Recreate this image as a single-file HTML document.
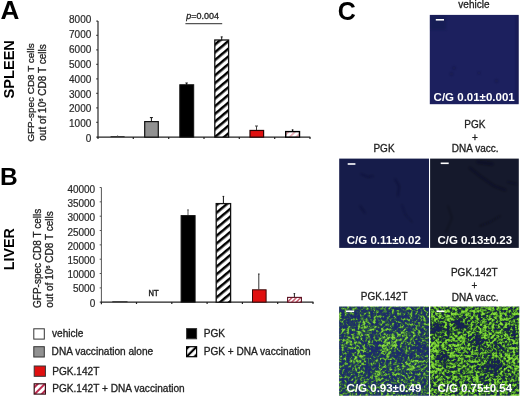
<!DOCTYPE html>
<html><head><meta charset="utf-8">
<style>
html,body{margin:0;padding:0;background:#fff;}
body{width:520px;height:398px;overflow:hidden;}
svg{display:block;}
text{font-family:"Liberation Sans",Arial,sans-serif;fill:#222;stroke:#222;stroke-width:0.3px;}
.b{font-weight:bold;fill:#000;stroke:none;}
.tk text{font-size:10px;text-anchor:end;fill:#2a2a2a;stroke:#2a2a2a;stroke-width:0.2px;}
.lg text{font-size:10.1px;fill:#222;}
.cg text{font-size:11.5px;font-weight:bold;fill:#fff;stroke:none;}
.ct text{font-size:10px;text-anchor:middle;fill:#222;}
</style></head><body>
<svg width="520" height="398" viewBox="0 0 520 398">
<defs>
<pattern id="hk" patternUnits="userSpaceOnUse" width="10" height="5.9" patternTransform="rotate(-40)">
<rect x="0" y="0" width="10" height="5.9" fill="#fff"/>
<rect x="0" y="0" width="10" height="2.5" fill="#000"/>
</pattern>
<pattern id="hrA" patternUnits="userSpaceOnUse" width="10" height="4.6" patternTransform="translate(292.5,134.3) rotate(-45)">
<rect x="0" y="0" width="10" height="4.6" fill="#fff"/>
<rect x="0" y="0" width="10" height="0.7" fill="#e49aa4"/><rect x="0" y="3.9" width="10" height="0.7" fill="#e49aa4"/>
</pattern>
<pattern id="hrB" patternUnits="userSpaceOnUse" width="10" height="3.1" patternTransform="translate(294.4,299.6) rotate(-45)">
<rect x="0" y="0" width="10" height="3.1" fill="#fff"/>
<rect x="0" y="0" width="10" height="0.5" fill="#b0102c"/><rect x="0" y="2.6" width="10" height="0.5" fill="#b0102c"/>
</pattern>
<pattern id="hrL" patternUnits="userSpaceOnUse" width="10" height="5.0" patternTransform="translate(39.8,389) rotate(-45)">
<rect x="0" y="0" width="10" height="5.0" fill="#fff"/>
<rect x="0" y="0" width="10" height="0.9" fill="#b8103a"/><rect x="0" y="4.1" width="10" height="0.9" fill="#b8103a"/>
</pattern>
<pattern id="hkL" patternUnits="userSpaceOnUse" width="10" height="5.6" patternTransform="translate(191.6,351.7) rotate(-45)">
<rect x="0" y="0" width="10" height="5.6" fill="#fff"/>
<rect x="0" y="0" width="10" height="1.1" fill="#000"/><rect x="0" y="4.5" width="10" height="1.1" fill="#000"/>
</pattern>
<filter id="sb" x="-20%" y="-20%" width="140%" height="140%"><feGaussianBlur stdDeviation="1.1"/></filter>
<filter id="fbl" x="324.1" y="291.6" width="119.9" height="119.2" filterUnits="userSpaceOnUse" color-interpolation-filters="sRGB">
<feGaussianBlur in="SourceGraphic" stdDeviation="3" result="mp"/>
<feTurbulence type="fractalNoise" baseFrequency="0.38" numOctaves="2" seed="5" result="n"/>
<feColorMatrix in="n" type="matrix" values="1 0 0 0 0  1 0 0 0 0  1 0 0 0 0  0 0 0 0 1" result="nz"/>
<feTurbulence type="fractalNoise" baseFrequency="0.15" numOctaves="2" seed="36" result="n2"/>
<feColorMatrix in="n2" type="matrix" values="1 0 0 0 0  1 0 0 0 0  1 0 0 0 0  0 0 0 0 1" result="n2z"/>
<feComposite in="nz" in2="n2z" operator="arithmetic" k1="0" k2="1.7" k3="0.5" k4="-0.6" result="t1"/>
<feComposite in="t1" in2="mp" operator="arithmetic" k1="0" k2="1" k3="1.3" k4="-0.63" result="s"/>
<feComponentTransfer in="s"><feFuncR type="table" tableValues="0.110 0.110 0.120 0.130 0.150 0.200 0.280 0.370 0.440 0.500 0.540"/><feFuncG type="table" tableValues="0.170 0.170 0.190 0.220 0.280 0.390 0.530 0.650 0.750 0.810 0.850"/><feFuncB type="table" tableValues="0.420 0.420 0.410 0.370 0.320 0.270 0.230 0.220 0.230 0.250 0.270"/><feFuncA type="linear" slope="0" intercept="1"/></feComponentTransfer>
<feGaussianBlur stdDeviation="0.7"/>
</filter><clipPath id="cbl"><rect x="339.1" y="306.6" width="89.9" height="89.2"/></clipPath>
<filter id="fbr" x="415.1" y="291.6" width="119.2" height="119.2" filterUnits="userSpaceOnUse" color-interpolation-filters="sRGB">
<feGaussianBlur in="SourceGraphic" stdDeviation="3" result="mp"/>
<feTurbulence type="fractalNoise" baseFrequency="0.38" numOctaves="2" seed="11" result="n"/>
<feColorMatrix in="n" type="matrix" values="1 0 0 0 0  1 0 0 0 0  1 0 0 0 0  0 0 0 0 1" result="nz"/>
<feTurbulence type="fractalNoise" baseFrequency="0.15" numOctaves="2" seed="42" result="n2"/>
<feColorMatrix in="n2" type="matrix" values="1 0 0 0 0  1 0 0 0 0  1 0 0 0 0  0 0 0 0 1" result="n2z"/>
<feComposite in="nz" in2="n2z" operator="arithmetic" k1="0" k2="1.7" k3="0.5" k4="-0.6" result="t1"/>
<feComposite in="t1" in2="mp" operator="arithmetic" k1="0" k2="1" k3="1.35" k4="-0.655" result="s"/>
<feComponentTransfer in="s"><feFuncR type="table" tableValues="0.090 0.090 0.090 0.100 0.120 0.180 0.270 0.360 0.440 0.500 0.540"/><feFuncG type="table" tableValues="0.130 0.130 0.140 0.160 0.230 0.370 0.530 0.670 0.770 0.830 0.870"/><feFuncB type="table" tableValues="0.340 0.340 0.310 0.270 0.220 0.180 0.170 0.180 0.200 0.220 0.240"/><feFuncA type="linear" slope="0" intercept="1"/></feComponentTransfer>
<feGaussianBlur stdDeviation="0.7"/>
</filter><clipPath id="cbr"><rect x="430.1" y="306.6" width="89.2" height="89.2"/></clipPath>
</defs>

<!-- Panel A -->
<text class="b" transform="translate(0.5,18.8) scale(1.045,1)" font-size="25">A</text>
<text class="b" font-size="14.6" transform="translate(14.1,69.3) rotate(-90)" text-anchor="middle">SPLEEN</text>
<text font-size="9.95" transform="translate(33.9,92.5) rotate(-90)" text-anchor="middle">GFP-spec CD8 T cells</text>
<text font-size="10" transform="translate(46.3,92.55) rotate(-90)" text-anchor="middle">out of 10<tspan font-size="6" dy="-3.5">6</tspan><tspan dy="3.5"> CD8 T cells</tspan></text>

<g class="tk">
<text x="91.3" y="23.0">8000</text>
<text x="91.3" y="38.0">7000</text>
<text x="91.3" y="53.0">6000</text>
<text x="91.3" y="68.0">5000</text>
<text x="91.3" y="83.0">4000</text>
<text x="91.3" y="97.7">3000</text>
<text x="91.3" y="112.4">2000</text>
<text x="91.3" y="127.1">1000</text>
<text x="91.3" y="141.8">0</text>
</g>
<g stroke="#3a3a3a" stroke-width="1.3" fill="none">
<path d="M98 21V137.1"/>
<path d="M96.3 21.2h1.7M96.3 35.4h1.7M96.3 49.9h1.7M96.3 64.4h1.7M96.3 78.9h1.7M96.3 93.4h1.7M96.3 107.9h1.7M96.3 122.4h1.7M96.3 137.1h1.7"/>
</g>
<g stroke="#222" stroke-width="1.2" fill="none">
<path d="M97.4 137.1H310.3"/>
<path d="M98 137.1v1.8M133.3 137.1v2M168.7 137.1v2M204 137.1v2M239.3 137.1v2M274.7 137.1v2M310 137.1v2"/>
</g>
<!-- bars A -->
<g stroke="#111" stroke-width="1">
<rect x="110.6" y="136.2" width="14" height="0.9" fill="#222" stroke="none"/>
<path d="M117.6 136.2v-0.9" fill="none" stroke="#777"/>
<path d="M151.4 121.6V117.6M149.9 117.6h3" fill="none"/>
<rect x="144.7" y="121.6" width="13.6" height="15.5" fill="#919191" stroke-width="1.2"/>
<path d="M186.6 84.8V83M185.4 83h2.4" fill="none"/>
<rect x="179.8" y="84.75" width="13.9" height="52.35" fill="#000"/>
<path d="M221.7 40V36.9M220.7 36.9h2" fill="none"/>
<rect x="214.8" y="40" width="13.8" height="97.1" fill="url(#hk)" stroke-width="1.3"/>
<path d="M256.5 130.2V126M255 126h3" fill="none" stroke="#444"/>
<rect x="250" y="130.45" width="13.6" height="6.65" fill="#e01010" stroke="#2a0505" stroke-width="1.2"/>
<path d="M292.6 131.4V129.7M291.8 129.9h1.6" fill="none" stroke-width="1.2"/>
<rect x="285.7" y="131.6" width="13.8" height="5.5" fill="url(#hrA)" stroke-width="1.4" stroke="#000"/>
</g>
<text x="186.2" y="19.1" font-size="9" fill="#333" stroke="#333"><tspan font-style="italic">p</tspan>=0.004</text>
<path d="M185.4 23.7H222.2" stroke="#555" stroke-width="1.2"/>

<!-- Panel B -->
<text class="b" x="0" y="185.3" font-size="24.5">B</text>
<text class="b" font-size="14.3" transform="translate(13.7,249.15) rotate(-90)" text-anchor="middle">LIVER</text>
<text font-size="10" transform="translate(41.2,258.4) rotate(-90)" text-anchor="middle">GFP-spec CD8 T cells</text>
<text font-size="10" transform="translate(53.3,259.5) rotate(-90)" text-anchor="middle">out of 10<tspan font-size="6" dy="-3.5">6</tspan><tspan dy="3.5"> CD8 T cells</tspan></text>

<g class="tk">
<text x="95.2" y="193.0">40000</text>
<text x="95.2" y="207.2">35000</text>
<text x="95.2" y="221.4">30000</text>
<text x="95.2" y="235.6">25000</text>
<text x="95.2" y="249.8">20000</text>
<text x="95.2" y="264.0">15000</text>
<text x="95.2" y="278.2">10000</text>
<text x="95.2" y="292.4">5000</text>
<text x="95.2" y="306.6">0</text>
</g>
<g stroke="#555" stroke-width="1" fill="none">
<path d="M101.4 187.5V302.1"/>
<path d="M99.7 187.5h1.7M99.7 201.84h1.7M99.7 216.2h1.7M99.7 230.5h1.7M99.7 244.86h1.7M99.7 259.2h1.7M99.7 273.5h1.7M99.7 287.9h1.7M99.7 302.1h1.7"/>
</g>
<g stroke="#222" stroke-width="1.2" fill="none">
<path d="M100.6 302.1H313.4"/>
<path d="M101.4 302.1v2.2M136.5 302.1v2M171.8 302.1v2M207.1 302.1v2M242.4 302.1v2M277.7 302.1v2M313 302.1v2"/>
</g>
<g stroke="#111" stroke-width="1">
<rect x="112.3" y="301.3" width="15.2" height="0.9" fill="#222" stroke="none"/>
<path d="M188 215.5V209.9M187.2 209.9h1.6" fill="none" stroke="#555"/>
<rect x="181.1" y="215.6" width="14" height="86.5" fill="#000"/>
<path d="M223.4 203.3V196.4M222.6 196.4h1.6" fill="none"/>
<rect x="216.2" y="203.6" width="14.4" height="98.6" fill="url(#hk)" stroke-width="1.3"/>
<path d="M258.8 289.4V274M258 274h1.6" fill="none" stroke="#333"/>
<rect x="252.5" y="289.8" width="13.6" height="12.3" fill="#e01010" stroke="#3a0808"/>
<path d="M294.4 297.3V293.6M293.6 293.6h1.6" fill="none" stroke-width="0.9"/>
<rect x="287.6" y="297.4" width="13.8" height="4.8" fill="url(#hrB)" stroke="#5a1020" stroke-width="1.1"/>
</g>
<text transform="translate(148.5,295.7) scale(0.92,1)" font-size="8.2" style="stroke-width:0.45px">NT</text>

<!-- Legend -->
<g stroke="#333" stroke-width="1">
<rect x="33.8" y="328.8" width="10.5" height="10.3" fill="#fff"/>
<rect x="33.8" y="346.7" width="10.5" height="10.3" fill="#919191"/>
<rect x="34.2" y="366" width="11.2" height="10.3" fill="#e01010"/>
<rect x="34.2" y="383.8" width="11.2" height="10.3" fill="url(#hrL)" stroke="#3a1018" stroke-width="1.2"/>
<rect x="186.6" y="328.6" width="10" height="10.2" fill="#000"/>
<rect x="186.6" y="346.7" width="10" height="10" fill="url(#hkL)" stroke="#000" stroke-width="1.2"/>
</g>
<g class="lg">
<text x="52" y="337.4">vehicle</text>
<text x="51.6" y="355.3">DNA vaccination alone</text>
<text x="52.2" y="374.5">PGK.142T</text>
<text x="52.2" y="392.4">PGK.142T + DNA vaccination</text>
<text x="203.7" y="337.2">PGK</text>
<text x="203.7" y="355.3">PGK + DNA vaccination</text>
</g>

<!-- Panel C -->
<text class="b" x="337.8" y="19.5" font-size="25">C</text>
<g class="ct">
<text x="473.9" y="8.2">vehicle</text>
<text x="384" y="151.9">PGK</text>
<text x="474.8" y="128">PGK</text>
<text x="475" y="140.9">+</text>
<text x="475.2" y="152.3">DNA vacc.</text>
<text x="384.2" y="300">PGK.142T</text>
<text x="474.3" y="276.4">PGK.142T</text>
<text x="474.5" y="289">+</text>
<text x="475.1" y="300.5">DNA vacc.</text>
</g>

<rect x="429.8" y="14.9" width="88.9" height="89.3" fill="#1c205e"/>
<clipPath id="cveh"><rect x="429.8" y="14.9" width="88.9" height="89.3"/></clipPath>
<g clip-path="url(#cveh)"><g filter="url(#sb)" fill="#0c0e30" opacity="0.5">
<rect x="430" y="15" width="16" height="15" fill="#14174a" opacity="0.8"/>
<circle cx="454" cy="68" r="1.3"/><circle cx="451.5" cy="74" r="1.3"/><circle cx="479" cy="73" r="1.2"/><circle cx="496.5" cy="81" r="1.3"/>
<rect x="516.5" y="15" width="2.2" height="89" fill="#10123c"/>
</g></g>
<rect x="339.2" y="158.6" width="89.8" height="89.3" fill="#161c4a"/>
<rect x="430.1" y="158.6" width="88.7" height="89.3" fill="#15192c"/>
<g filter="url(#sb)" fill="none" stroke="#080c18" stroke-linecap="round">
<path d="M361 174 L368 177 L373 176" stroke-width="1.2" opacity="0.6" stroke="#0a0d28"/>
<path d="M395 179 L399 186 L398 196" stroke-width="1.2" opacity="0.6" stroke="#0a0d28"/>
<path d="M360 206 L365 213" stroke-width="1.2" opacity="0.6" stroke="#0a0d28"/>
<path d="M402 205 L405 214 L412 222" stroke-width="1" opacity="0.5" stroke="#0a0d28"/>
<path d="M470 168 L480 176 L494 186 L505 190" stroke-width="3" opacity="0.35"/>
<path d="M478 162 L492 164" stroke-width="4" opacity="0.35"/>
<path d="M508 182 L516 184" stroke-width="2.5" opacity="0.3"/>
<path d="M500 216 L490 222 L480 226" stroke-width="2" opacity="0.3"/>
<path d="M448 206 L452 218 L446 232" stroke-width="1.5" opacity="0.3"/>
</g>
<g clip-path="url(#cbl)"><g filter="url(#fbl)">
<rect x="324.1" y="291.6" width="119.9" height="119.2" fill="rgb(107,107,107)"/>
<circle cx="349.1" cy="342.6" r="5" fill="#fff" fill-opacity="0.45"/>
<circle cx="361.1" cy="331.6" r="5" fill="#fff" fill-opacity="0.35"/>
<circle cx="390.1" cy="341.6" r="6" fill="#fff" fill-opacity="0.50"/>
<circle cx="386.1" cy="351.6" r="5" fill="#fff" fill-opacity="0.45"/>
<circle cx="358.1" cy="360.6" r="5" fill="#fff" fill-opacity="0.45"/>
<circle cx="408.1" cy="335.6" r="5" fill="#fff" fill-opacity="0.35"/>
<circle cx="370.1" cy="324.6" r="5" fill="#fff" fill-opacity="0.20"/>
<circle cx="413.1" cy="365.6" r="6" fill="#fff" fill-opacity="0.30"/>
<circle cx="378.1" cy="376.6" r="5" fill="#fff" fill-opacity="0.35"/>
<circle cx="396.1" cy="370.6" r="5" fill="#fff" fill-opacity="0.25"/>
<circle cx="375.1" cy="351.6" r="6" fill="#000" fill-opacity="0.55"/>
<circle cx="399.1" cy="354.6" r="6" fill="#000" fill-opacity="0.50"/>
<circle cx="420.1" cy="348.6" r="6" fill="#000" fill-opacity="0.50"/>
<circle cx="348.1" cy="353.6" r="4" fill="#000" fill-opacity="0.45"/>
<circle cx="367.1" cy="367.6" r="5" fill="#000" fill-opacity="0.50"/>
<circle cx="353.1" cy="319.6" r="6" fill="#000" fill-opacity="0.35"/>
<circle cx="401.1" cy="319.6" r="6" fill="#000" fill-opacity="0.35"/>
<circle cx="343.1" cy="374.6" r="5" fill="#000" fill-opacity="0.40"/>
<circle cx="392.1" cy="379.6" r="5" fill="#000" fill-opacity="0.30"/>
</g></g>
<g clip-path="url(#cbr)"><g filter="url(#fbr)">
<rect x="415.1" y="291.6" width="119.2" height="119.2" fill="rgb(133,133,133)"/>
<circle cx="436.1" cy="328.6" r="6" fill="#000" fill-opacity="0.60"/>
<circle cx="460.1" cy="324.6" r="6" fill="#000" fill-opacity="0.60"/>
<circle cx="443.1" cy="358.6" r="6" fill="#000" fill-opacity="0.55"/>
<circle cx="478.1" cy="341.6" r="6" fill="#000" fill-opacity="0.55"/>
<circle cx="493.1" cy="366.6" r="7" fill="#000" fill-opacity="0.60"/>
<circle cx="499.1" cy="346.6" r="4" fill="#000" fill-opacity="0.50"/>
<circle cx="510.1" cy="332.6" r="5" fill="#000" fill-opacity="0.40"/>
<circle cx="482.1" cy="378.6" r="5" fill="#000" fill-opacity="0.35"/>
<circle cx="449.1" cy="315.6" r="5" fill="#fff" fill-opacity="0.35"/>
<circle cx="469.1" cy="315.6" r="5" fill="#fff" fill-opacity="0.35"/>
<circle cx="460.1" cy="341.6" r="5" fill="#fff" fill-opacity="0.40"/>
<circle cx="434.1" cy="349.6" r="5" fill="#fff" fill-opacity="0.45"/>
<circle cx="453.1" cy="352.6" r="5" fill="#fff" fill-opacity="0.40"/>
<circle cx="436.1" cy="367.6" r="5" fill="#fff" fill-opacity="0.45"/>
<circle cx="487.1" cy="333.6" r="5" fill="#fff" fill-opacity="0.40"/>
<circle cx="504.1" cy="338.6" r="5" fill="#fff" fill-opacity="0.40"/>
<circle cx="510.1" cy="358.6" r="6" fill="#fff" fill-opacity="0.30"/>
<circle cx="476.1" cy="379.6" r="5" fill="#fff" fill-opacity="0.40"/>
<circle cx="496.1" cy="316.6" r="6" fill="#fff" fill-opacity="0.25"/>
</g></g>

<g stroke="#fff" stroke-width="1.6">
<path d="M435.8 19.8H444"/>
<path d="M347.7 164H355.4"/>
<path d="M440.7 163.3H448.7"/>
<path d="M345.9 311.3H354.1"/>
<path d="M436.5 311.3H444.5"/>
</g>
<g class="cg">
<text x="433.6" y="100.5">C/G 0.01±0.001</text>
<text x="346.8" y="244.4">C/G 0.11±0.02</text>
<text x="437.4" y="244.4">C/G 0.13±0.23</text>
<text x="346.6" y="392.1">C/G 0.93±0.49</text>
<text x="437.4" y="392.1">C/G 0.75±0.54</text>
</g>
</svg>
</body></html>
